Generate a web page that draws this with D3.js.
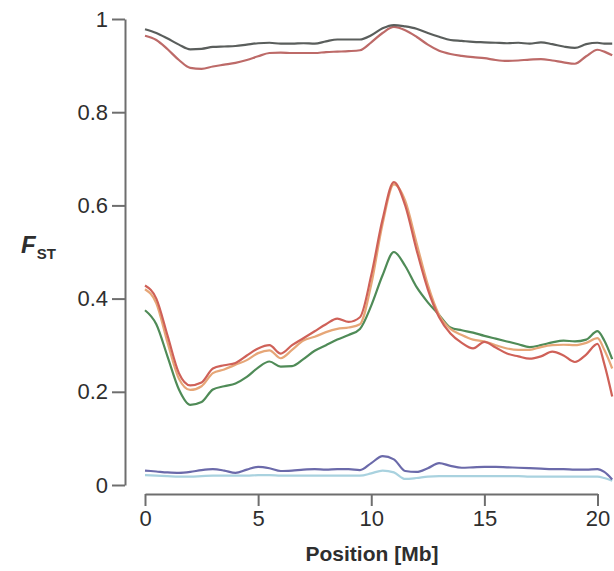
<!DOCTYPE html>
<html><head><meta charset="utf-8">
<script src="https://cdn.jsdelivr.net/npm/d3@7"></script>
<style>
html,body{margin:0;padding:0;background:#fff;}
svg{display:block;}
</style></head>
<body>
<svg id="chart" width="614" height="571"></svg>
<script>
// Positions (Mb) at which values were read
const positions = [0,0.5,1,1.5,2,2.5,3,3.5,4,4.5,5,5.5,6,6.5,7,7.5,8,8.5,9,9.5,10,10.5,11,11.5,12,12.5,13,13.5,14,14.5,15,15.5,16,16.5,17,17.5,18,18.5,19,19.5,20,20.3,20.65];

const topGray = [0.978,0.970,0.958,0.945,0.935,0.936,0.940,0.941,0.942,0.945,0.948,0.949,0.947,0.947,0.948,0.947,0.952,0.956,0.956,0.956,0.965,0.980,0.987,0.984,0.979,0.970,0.962,0.955,0.953,0.951,0.950,0.949,0.948,0.949,0.947,0.950,0.946,0.941,0.938,0.946,0.949,0.947,0.947];
const topRed = [0.964,0.955,0.935,0.912,0.895,0.893,0.898,0.902,0.906,0.912,0.920,0.927,0.928,0.927,0.927,0.927,0.929,0.930,0.931,0.933,0.950,0.970,0.983,0.976,0.962,0.945,0.932,0.925,0.921,0.918,0.916,0.912,0.910,0.911,0.913,0.914,0.911,0.907,0.904,0.920,0.934,0.930,0.922];
const midRed = [0.428,0.400,0.320,0.240,0.214,0.220,0.250,0.257,0.262,0.278,0.293,0.300,0.282,0.300,0.315,0.330,0.345,0.357,0.350,0.360,0.450,0.570,0.650,0.600,0.505,0.420,0.360,0.325,0.305,0.293,0.307,0.295,0.282,0.276,0.271,0.276,0.286,0.278,0.264,0.280,0.303,0.260,0.190];
const midOrange = [0.420,0.390,0.305,0.228,0.204,0.212,0.240,0.248,0.258,0.268,0.283,0.289,0.272,0.290,0.310,0.318,0.328,0.335,0.338,0.345,0.430,0.560,0.645,0.610,0.520,0.430,0.365,0.335,0.322,0.312,0.308,0.300,0.293,0.290,0.290,0.296,0.300,0.301,0.300,0.305,0.315,0.290,0.250];
const midGreen = [0.375,0.345,0.275,0.205,0.172,0.178,0.205,0.212,0.218,0.232,0.252,0.265,0.254,0.255,0.270,0.288,0.300,0.312,0.322,0.335,0.385,0.450,0.500,0.470,0.425,0.392,0.365,0.338,0.332,0.327,0.320,0.314,0.308,0.302,0.296,0.300,0.306,0.310,0.308,0.312,0.330,0.310,0.270];
const lowPurple = [0.031,0.029,0.027,0.026,0.028,0.032,0.034,0.031,0.026,0.033,0.039,0.036,0.030,0.031,0.033,0.034,0.033,0.034,0.034,0.032,0.047,0.062,0.055,0.030,0.028,0.036,0.047,0.041,0.037,0.038,0.039,0.039,0.038,0.037,0.036,0.035,0.034,0.034,0.033,0.033,0.034,0.028,0.012];
const lowBlue = [0.021,0.020,0.019,0.018,0.018,0.019,0.020,0.020,0.020,0.020,0.021,0.021,0.020,0.020,0.020,0.020,0.020,0.020,0.020,0.020,0.025,0.031,0.027,0.013,0.015,0.018,0.019,0.019,0.019,0.019,0.019,0.019,0.019,0.019,0.018,0.018,0.018,0.018,0.018,0.018,0.018,0.015,0.009];

const xTicks = [0,5,10,15,20];
const xTickLabels = ["0","5","10","15","20"];
const yTicks = [0,0.2,0.4,0.6,0.8,1];
const yTickLabels = ["0","0.2","0.4","0.6","0.8","1"];

const seriesNames = ["lowBlue","lowPurple","midGreen","midOrange","midRed","topRed","topGray"];
const seriesValues = [lowBlue,lowPurple,midGreen,midOrange,midRed,topRed,topGray];
const seriesColors = ["#a9d2df","#6b6aaa","#4f8b57","#e6a677","#cf6158","#bd6a68","#5a5e5c"];

const svg = d3.select("#chart");
const x = d3.scaleLinear().domain([0,20]).range([145,597.5]);
const y = d3.scaleLinear().domain([0,1]).range([485,19]);
const axisColor = "#6e6e6e";
const textColor = "#2e2e2e";
const font = "'Liberation Sans', Arial, sans-serif";

// Y axis
const yAxis = svg.append("g").attr("transform","translate(125,0)")
  .call(d3.axisLeft(y).tickValues(yTicks).tickFormat((d,i)=>yTickLabels[i]).tickSize(13).tickSizeOuter(0).tickPadding(4));
// X axis
const xAxis = svg.append("g").attr("transform","translate(0,494)")
  .call(d3.axisBottom(x).tickValues(xTicks).tickFormat((d,i)=>xTickLabels[i]).tickSize(12).tickSizeOuter(0).tickPadding(4));
[yAxis,xAxis].forEach(g=>{
  g.selectAll("path,line").attr("stroke",axisColor).attr("stroke-width",2);
  g.selectAll("text").attr("fill",textColor).style("font-family",font).style("font-size","22px");
});

// Lines
const line = d3.line().x((d,i)=>x(positions[i])).y(d=>y(d)).curve(d3.curveMonotoneX);
seriesValues.forEach((vals,k)=>{
  svg.append("path").datum(vals)
    .attr("class","series "+seriesNames[k])
    .attr("fill","none").attr("stroke",seriesColors[k]).attr("stroke-width",2.2)
    .attr("stroke-linejoin","round").attr("d",line);
});

// Axis titles
svg.append("text").attr("x",372).attr("y",561).attr("text-anchor","middle")
  .attr("fill",textColor).style("font-family",font).style("font-size","21px").style("font-weight","bold")
  .text("Position [Mb]");
const yl = svg.append("text").attr("x",21).attr("y",253).attr("fill",textColor)
  .style("font-family",font).style("font-weight","bold");
yl.append("tspan").style("font-size","24px").style("font-style","italic").text("F");
yl.append("tspan").attr("dy",6).attr("dx",1).style("font-size","15px").text("ST");
</script>
</body></html>
